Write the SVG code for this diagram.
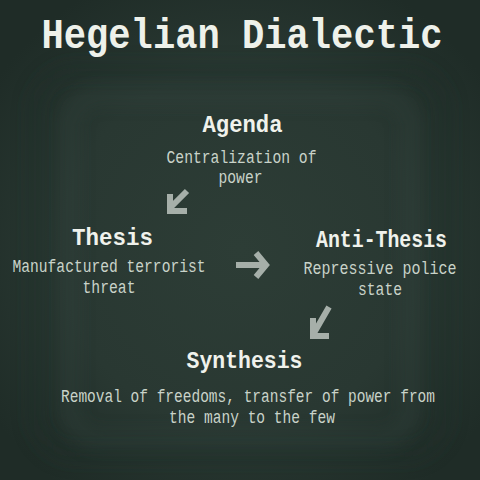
<svg xmlns="http://www.w3.org/2000/svg" width="480" height="480" viewBox="0 0 480 480">
  <defs>
    <radialGradient id="bg" cx="50%" cy="52%" r="62%">
      <stop offset="0" stop-color="#2d3d36"/>
      <stop offset="0.6" stop-color="#293832"/>
      <stop offset="1" stop-color="#1f2c27"/>
    </radialGradient>
    <filter id="blur" x="-20%" y="-20%" width="140%" height="140%">
      <feGaussianBlur stdDeviation="9"/>
    </filter>
    <style>
      .title { font-family: "Liberation Mono", "Courier New", monospace; font-weight: bold; fill: #eef1ea; text-anchor: middle; }
      .head { font-family: "Liberation Mono", "Courier New", monospace; font-weight: bold; fill: #f0f2ec; text-anchor: middle; font-size: 24px; }
      .body { font-family: "Liberation Mono", "Courier New", monospace; fill: #c9d3c9; text-anchor: middle; font-size: 19px; }
      .arrow { fill: none; stroke: #a6afa9; stroke-width: 6; stroke-linecap: butt; stroke-linejoin: miter; }
    </style>
  </defs>

  <rect x="0" y="0" width="480" height="480" fill="url(#bg)"/>
  <rect x="70" y="95" width="340" height="345" rx="30" fill="none" stroke="#33433c" stroke-width="12" filter="url(#blur)" opacity="0.5"/>
  <rect x="35" y="70" width="410" height="385" rx="40" fill="none" stroke="#1f2c27" stroke-width="12" filter="url(#blur)" opacity="0.4"/>

  <text class="title" x="242" y="48" font-size="42" textLength="401" lengthAdjust="spacingAndGlyphs">Hegelian Dialectic</text>

  <g id="agenda">
    <text class="head" x="242.5" y="132" textLength="80" lengthAdjust="spacingAndGlyphs">Agenda</text>
    <text class="body" x="241.5" y="163" textLength="150" lengthAdjust="spacingAndGlyphs">Centralization of</text>
    <text class="body" x="240.5" y="183" textLength="44" lengthAdjust="spacingAndGlyphs">power</text>
  </g>

  <g id="thesis">
    <text class="head" x="112.5" y="245" font-size="26" textLength="81" lengthAdjust="spacingAndGlyphs">Thesis</text>
    <text class="body" x="109" y="272" textLength="193" lengthAdjust="spacingAndGlyphs">Manufactured terrorist</text>
    <text class="body" x="109" y="293" textLength="53" lengthAdjust="spacingAndGlyphs">threat</text>
  </g>

  <g id="antithesis">
    <text class="head" x="381.5" y="247" textLength="131" lengthAdjust="spacingAndGlyphs">Anti-Thesis</text>
    <text class="body" x="380" y="274" textLength="153" lengthAdjust="spacingAndGlyphs">Repressive police</text>
    <text class="body" x="380" y="295" textLength="44" lengthAdjust="spacingAndGlyphs">state</text>
  </g>

  <g id="synthesis">
    <text class="head" x="244.5" y="368" font-size="26" textLength="116" lengthAdjust="spacingAndGlyphs">Synthesis</text>
    <text class="body" x="248" y="402" textLength="374" lengthAdjust="spacingAndGlyphs">Removal of freedoms, transfer of power from</text>
    <text class="body" x="252" y="423" textLength="166" lengthAdjust="spacingAndGlyphs">the many to the few</text>
  </g>

  <g id="connectors">
    <path class="arrow" d="M187,191 L171,207 M170,194 L170,211 L187,211"/>
    <path class="arrow" d="M236,265 L264,265 M256,253 L266,265 L256,277"/>
    <path class="arrow" d="M329,307 L314,333 M313,318 L313,336 L329,336"/>
  </g>
</svg>
